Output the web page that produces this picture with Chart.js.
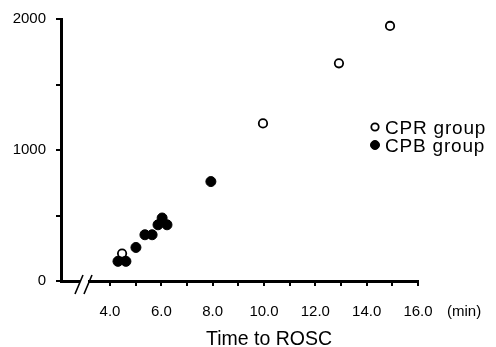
<!DOCTYPE html>
<html>
<head>
<meta charset="utf-8">
<script src="https://cdn.jsdelivr.net/npm/chart.js@4/dist/chart.umd.min.js"></script>
<style>
html,body{margin:0;padding:0;background:#fff;}
#wrap{width:496px;height:347px;position:relative;}
</style>
</head>
<body>
<div id="wrap"><canvas id="c" width="496" height="347"></canvas></div>
<script>
// Data
const cprX = [4.47, 9.96, 12.92, 14.91];
const cprY = [210, 1203, 1662, 1947];
const cpbX = [4.31, 4.62, 5.01, 5.36, 5.64, 5.87, 6.03, 6.22, 7.93];
const cpbY = [150, 150, 256, 353, 353, 429, 481, 429, 759];
const xTickValues = [4, 5, 6, 7, 8, 9, 10, 11, 12, 13, 14, 15, 16];
const yTickValues = [0, 500, 1000, 1500, 2000];
const seriesNames = ['CPR group', 'CPB group'];
const xTitle = 'Time to ROSC';
const xUnit = '(min)';

const FONT = '"Liberation Sans", Arial, Helvetica, sans-serif';

const toPts = (xs, ys) => xs.map((x, i) => ({x: x, y: ys[i]}));

const extras = {
  id: 'extras',
  afterDraw(chart) {
    const ctx = chart.ctx;
    const ys = chart.scales.y;
    const axisY = ys.getPixelForValue(0);
    ctx.save();
    // axis break
    ctx.fillStyle = '#fff';
    ctx.fillRect(80, axisY - 3, 8, 6);
    ctx.strokeStyle = '#000';
    ctx.lineWidth = 1.6;
    ctx.beginPath();
    ctx.moveTo(75, axisY + 13); ctx.lineTo(83, axisY - 6);
    ctx.moveTo(84, axisY + 13); ctx.lineTo(92, axisY - 6);
    ctx.stroke();
    // legend
    const ds = chart.data.datasets;
    const rows = [{ds: ds[1], y: 127}, {ds: ds[0], y: 145}];
    ctx.font = '19px ' + FONT;
    if ('letterSpacing' in ctx) ctx.letterSpacing = '0.8px';
    ctx.textBaseline = 'alphabetic';
    ctx.textAlign = 'left';
    rows.forEach(r => {
      ctx.beginPath();
      ctx.arc(375, r.y, r.ds.pointRadius - 0.5, 0, Math.PI * 2);
      ctx.fillStyle = r.ds.backgroundColor;
      ctx.fill();
      ctx.lineWidth = r.ds.borderWidth;
      ctx.strokeStyle = r.ds.borderColor;
      ctx.stroke();
      ctx.fillStyle = '#000';
      ctx.fillText(r.ds.label, 385, r.y + 6.5);
    });
    if ('letterSpacing' in ctx) ctx.letterSpacing = '0px';
    // titles
    ctx.font = '19.5px ' + FONT;
    ctx.fillText(xTitle, 206, 345);
    ctx.font = '15px ' + FONT;
    ctx.fillText(xUnit, 447, 316);
    ctx.restore();
  }
};

new Chart(document.getElementById('c'), {
  type: 'scatter',
  data: {
    datasets: [
      {
        label: seriesNames[1],
        data: toPts(cpbX, cpbY),
        pointRadius: 5,
        pointHoverRadius: 5,
        backgroundColor: '#000',
        borderColor: '#000',
        borderWidth: 1,
        order: 0
      },
      {
        label: seriesNames[0],
        data: toPts(cprX, cprY),
        pointRadius: 4.2,
        pointHoverRadius: 4.2,
        backgroundColor: '#fff',
        borderColor: '#000',
        borderWidth: 1.8,
        order: 1
      }
    ]
  },
  options: {
    responsive: false,
    animation: false,
    events: [],
    layout: {padding: {top: 15, right: 78, left: 0, bottom: 0}},
    plugins: {legend: {display: false}, tooltip: {enabled: false}},
    scales: {
      x: {
        type: 'linear',
        min: 2.09,
        max: 16,
        afterBuildTicks(scale) { scale.ticks = xTickValues.map(v => ({value: v})); },
        afterFit(scale) { scale.height = 66; },
        ticks: {
          autoSkip: false,
          maxRotation: 0,
          color: '#000',
          font: {family: FONT, size: 15},
          padding: 17,
          callback: v => (v % 2 === 0 ? v.toFixed(1) : '')
        },
        grid: {drawOnChartArea: false, drawTicks: true, tickLength: 5, color: '#000', lineWidth: 2},
        border: {display: true, width: 3, color: '#000'}
      },
      y: {
        type: 'linear',
        min: 0,
        max: 2000,
        afterBuildTicks(scale) { scale.ticks = yTickValues.map(v => ({value: v})); },
        afterFit(scale) { scale.width = 61; },
        ticks: {
          autoSkip: false,
          color: '#000',
          font: {family: FONT, size: 15},
          padding: 10,
          callback: v => (v % 1000 === 0 ? String(v) : '')
        },
        grid: {drawOnChartArea: false, drawTicks: true, tickLength: 5, color: '#000', lineWidth: 2},
        border: {display: true, width: 3, color: '#000'}
      }
    }
  },
  plugins: [extras]
});
</script>
</body>
</html>
